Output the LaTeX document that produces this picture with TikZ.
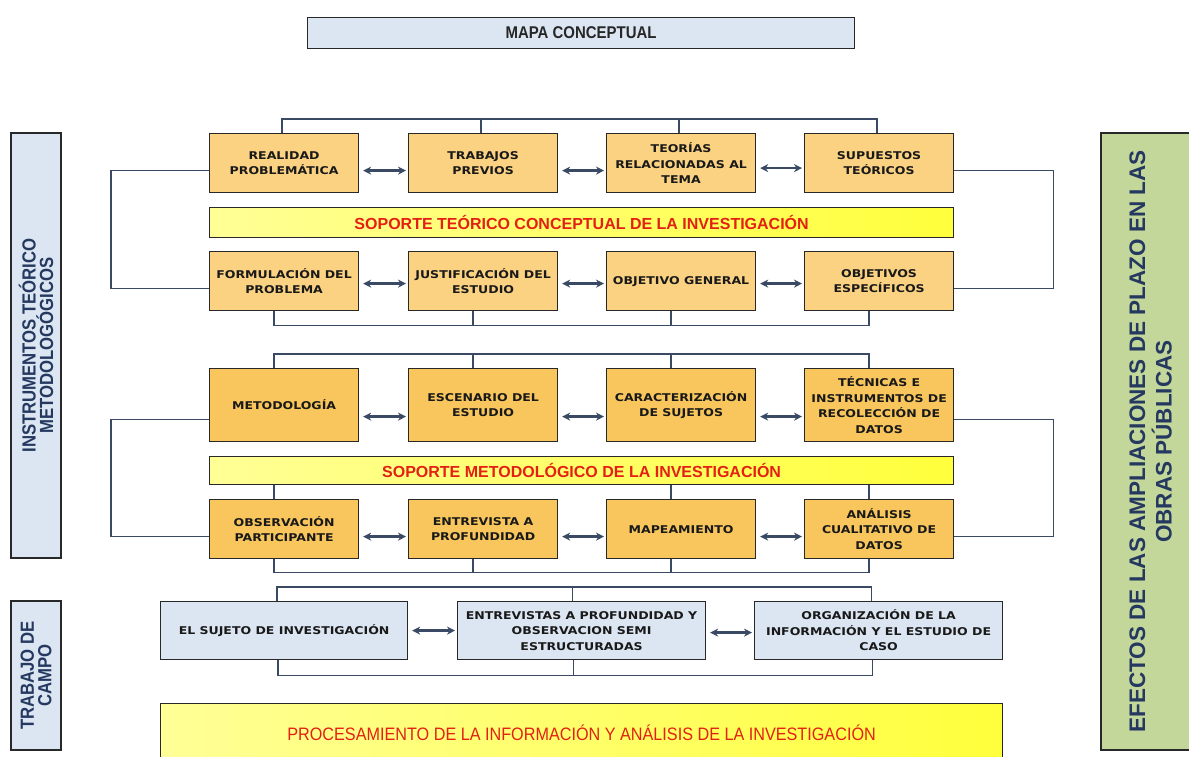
\documentclass[tikz,border=0pt]{standalone}
\usepackage{fontspec}
\usetikzlibrary{arrows.meta}
\newfontfamily\boxfont{DejaVu Sans}[FakeStretch=1.17]
\newfontfamily\arialb{Liberation Sans}
\newfontfamily\arialn{Liberation Sans}[FakeStretch=0.9]
\newfontfamily\titlefont{Liberation Sans}[FakeStretch=0.88]
\newfontfamily\sidefont{Liberation Sans}[FakeStretch=0.88]
\definecolor{orA}{RGB}{250,210,130}
\definecolor{orB}{RGB}{248,198,92}
\definecolor{ylw}{RGB}{255,255,60}
\definecolor{ylwL}{RGB}{255,255,150}
\definecolor{lblue}{RGB}{220,230,242}
\definecolor{lgreen}{RGB}{196,215,155}
\definecolor{connc}{RGB}{58,74,100}
\definecolor{bord}{RGB}{40,40,40}
\definecolor{navy}{RGB}{36,56,96}
\definecolor{redt}{RGB}{228,32,20}
\tikzset{
  box/.style={draw=bord, line width=1.2pt, anchor=north west, inner sep=0pt, align=center,
    font={\boxfont\bfseries\fontsize{10.7}{15.5}\selectfont}, text=black!90},
  boxA/.style={box, fill=orA, minimum width=149pt, minimum height=59pt},
  boxB/.style={box, fill=orB, minimum width=149pt, minimum height=59pt},
  boxC/.style={box, fill=lblue, minimum width=248pt, minimum height=58pt},
  banner/.style={draw=bord, line width=1.2pt, left color=ylwL, right color=ylw, anchor=north west,
    inner sep=0pt, font={\arialb\bfseries\fontsize{16}{18}\selectfont}, text=redt,
    minimum width=744pt},
  side/.style={draw=bord, line width=1.2pt, rotate=90, inner sep=0pt, align=center, text=navy},
  conn/.style={draw=connc, line width=1.4pt},
  arr/.style={draw=connc, line width=2.6pt, {Stealth[length=8pt,width=8pt]}-{Stealth[length=8pt,width=8pt]},
    shorten <=4pt, shorten >=2pt}
}
\begin{document}
\begin{tikzpicture}[x=1pt,y=-1pt]
\useasboundingbox (0,0) rectangle (1189,756);
\fill[white] (0,0) rectangle (1189,756);
% title
\node[draw=bord, line width=1.2pt, fill=lblue, anchor=north west, minimum width=547pt, minimum height=31pt,
  inner sep=0pt, font={\titlefont\bfseries\fontsize{17}{19}\selectfont}, text=black!85] (title) at (307,17) {MAPA CONCEPTUAL};
% side boxes
\node[side, fill=lblue, minimum width=425pt, minimum height=50pt,
  font={\sidefont\bfseries\fontsize{19}{17.5}\selectfont}] (lb1) at (36,345.5) {INSTRUMENTOS TEÓRICO\\METODOLOGÓGICOS};
\node[side, fill=lblue, minimum width=149pt, minimum height=50pt,
  font={\sidefont\bfseries\fontsize{19}{17.5}\selectfont}] (lb2) at (36,675.5) {TRABAJO DE\\CAMPO};
\node[side, fill=lgreen, minimum width=617pt, minimum height=99pt,
  font={\arialb\bfseries\fontsize{22.5}{26.5}\selectfont}] (rb) at (1150.5,441.5) {EFECTOS DE LAS AMPLIACIONES DE PLAZO EN LAS\\OBRAS PÚBLICAS};
% row 1
\node[boxA] (b1) at (209,133) {REALIDAD\\PROBLEMÁTICA};
\node[boxA] (b2) at (408,133) {TRABAJOS\\PREVIOS};
\node[boxA] (b3) at (606,133) {TEORÍAS\\RELACIONADAS AL\\TEMA};
\node[boxA] (b4) at (804,133) {SUPUESTOS\\TEÓRICOS};
\node[banner, minimum height=30pt] (ban1) at (209,207) {SOPORTE TEÓRICO CONCEPTUAL DE LA INVESTIGACIÓN};
% row 2
\node[boxA] (b5) at (209,251) {FORMULACIÓN DEL\\PROBLEMA};
\node[boxA] (b6) at (408,251) {JUSTIFICACIÓN DEL\\ESTUDIO};
\node[boxA] (b7) at (606,251) {OBJETIVO GENERAL};
\node[boxA] (b8) at (804,251) {OBJETIVOS\\ESPECÍFICOS};
% row 3
\node[boxB, minimum height=73pt] (b9) at (209,368) {METODOLOGÍA};
\node[boxB, minimum height=73pt] (b10) at (408,368) {ESCENARIO DEL\\ESTUDIO};
\node[boxB, minimum height=73pt] (b11) at (606,368) {CARACTERIZACIÓN\\DE SUJETOS};
\node[boxB, minimum height=73pt] (b12) at (804,368) {TÉCNICAS E\\INSTRUMENTOS DE\\RECOLECCIÓN DE\\DATOS};
\node[banner, minimum height=28pt] (ban2) at (209,456) {SOPORTE METODOLÓGICO DE LA INVESTIGACIÓN};
% row 4
\node[boxB] (b13) at (209,499) {OBSERVACIÓN\\PARTICIPANTE};
\node[boxB] (b14) at (408,499) {ENTREVISTA A\\PROFUNDIDAD};
\node[boxB] (b15) at (606,499) {MAPEAMIENTO};
\node[boxB] (b16) at (804,499) {ANÁLISIS\\CUALITATIVO DE\\DATOS};
% row 5
\node[boxC, minimum width=247pt] (c1) at (160,601) {EL SUJETO DE INVESTIGACIÓN};
\node[boxC] (c2) at (457,601) {ENTREVISTAS A PROFUNDIDAD Y\\OBSERVACION SEMI\\ESTRUCTURADAS};
\node[boxC] (c3) at (754,601) {ORGANIZACIÓN DE LA\\INFORMACIÓN Y EL ESTUDIO DE\\CASO};
% bottom
\node[draw=bord, line width=1.2pt, left color=ylwL, right color=ylw, anchor=north west, inner sep=0pt,
  minimum width=842pt, minimum height=58pt, font={\arialn\fontsize{18}{20}\selectfont}, text=redt] (proc) at (160,703)
  {PROCESAMIENTO DE LA INFORMACIÓN Y ANÁLISIS DE LA INVESTIGACIÓN};
% arrows
\draw[arr] ([yshift=-7.5pt]b1.east) -- ([yshift=-7.5pt]b2.west);
\draw[arr] ([yshift=-7.5pt]b2.east) -- ([yshift=-7.5pt]b3.west);
\draw[arr] ([yshift=-5pt]b3.east) -- ([yshift=-5pt]b4.west);
\draw[arr] ([yshift=-2.5pt]b5.east) -- ([yshift=-2.5pt]b6.west);
\draw[arr] ([yshift=-2.5pt]b6.east) -- ([yshift=-2.5pt]b7.west);
\draw[arr] ([yshift=-2.5pt]b7.east) -- ([yshift=-2.5pt]b8.west);
\draw[arr] ([yshift=-11.5pt]b9.east) -- ([yshift=-11.5pt]b10.west);
\draw[arr] ([yshift=-11.5pt]b10.east) -- ([yshift=-11.5pt]b11.west);
\draw[arr] ([yshift=-11.5pt]b11.east) -- ([yshift=-11.5pt]b12.west);
\draw[arr] ([yshift=-7.5pt]b13.east) -- ([yshift=-7.5pt]b14.west);
\draw[arr] ([yshift=-7.5pt]b14.east) -- ([yshift=-7.5pt]b15.west);
\draw[arr] ([yshift=-7.5pt]b15.east) -- ([yshift=-7.5pt]b16.west);
\draw[arr] (c1.east) -- (c2.west);
\draw[arr] ([yshift=-2pt]c2.east) -- ([yshift=-2pt]c3.west);
% side brackets
\draw[conn] ([yshift=-7.5pt]b1.west) -- ++(-98,0) |- ([yshift=-7.5pt]b5.west);
\draw[conn] ([yshift=-7.5pt]b4.east) -- ++(99,0) |- ([yshift=-7.5pt]b8.east);
\draw[conn] ([yshift=-14.5pt]b9.west) -- ++(-98,0) |- ([yshift=-7.5pt]b13.west);
\draw[conn] ([yshift=-14.5pt]b12.east) -- ++(99,0) |- ([yshift=-7.5pt]b16.east);
% top / bottom brackets rows 1-2
\draw[conn] ([xshift=-2pt]b1.north) -- ++(0,-14) -| ([xshift=-2pt]b4.north);
\draw[conn] ([xshift=-2pt]b2.north) -- ++(0,-14);
\draw[conn] ([xshift=-2pt]b3.north) -- ++(0,-14);
\draw[conn] ([xshift=-10pt]b5.south) -- ++(0,14) -| ([xshift=-10pt]b8.south);
\draw[conn] ([xshift=-10pt]b6.south) -- ++(0,14);
\draw[conn] ([xshift=-10pt]b7.south) -- ++(0,14);
% rows 3-4
\draw[conn] ([xshift=-10pt]b9.north) -- ++(0,-14) -| ([xshift=-10pt]b12.north);
\draw[conn] ([xshift=-10pt]b10.north) -- ++(0,-14);
\draw[conn] ([xshift=-10pt]b11.north) -- ++(0,-14);
\draw[conn] ([xshift=-10pt]b13.north) -- ([xshift=-10pt]b13.north |- ban2.south);
\draw[conn] ([xshift=-10pt]b15.north) -- ([xshift=-10pt]b15.north |- ban2.south);
\draw[conn] ([xshift=-10pt]b16.north) -- ([xshift=-10pt]b16.north |- ban2.south);
\draw[conn] ([xshift=-10pt]b13.south) -- ++(0,13) -| ([xshift=-10pt]b16.south);
\draw[conn] ([xshift=-10pt]b14.south) -- ++(0,13);
\draw[conn] ([xshift=-10pt]b15.south) -- ++(0,13);
% row 5
\draw[conn] ([xshift=-7pt]c1.north) -- ++(0,-14) -| ([xshift=-7pt]c3.north);
\draw[conn] ([xshift=-9pt]c2.north) -- ++(0,-14);
\draw[conn] ([xshift=-6pt]c1.south) -- ++(0,15) -| ([xshift=-6pt]c3.south);
\draw[conn] ([xshift=-8pt]c2.south) -- ++(0,15);
\end{tikzpicture}
\end{document}
